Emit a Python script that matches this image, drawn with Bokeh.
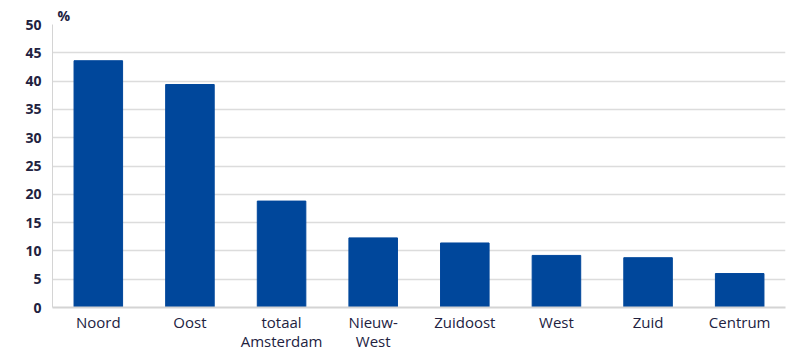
from bokeh.plotting import figure
from bokeh.models import FixedTicker, Range1d, Title
from bokeh.embed import file_html
from bokeh.resources import INLINE

categories = ["Noord", "Oost", "totaal\nAmsterdam", "Nieuw-\nWest", "Zuidoost", "West", "Zuid", "Centrum"]
values = [43.6, 39.4, 18.8, 12.3, 11.4, 9.2, 8.8, 6.0]
y_ticks = [0, 5, 10, 15, 20, 25, 30, 35, 40, 45, 50]

FONT = "Open Sans"
TXT = "#22223f"

p = figure(x_range=categories, y_range=Range1d(0, 50), width=787, height=360,
           output_backend="svg", toolbar_location=None,
           min_border_left=52, min_border_right=2, min_border_top=24, min_border_bottom=53)
p.vbar(x=categories, top=values, width=0.53, color="#00479b")

p.outline_line_color = None
p.xgrid.grid_line_color = None
p.ygrid.grid_line_color = "#dcdcdc"
p.ygrid.grid_line_width = 1.5
p.yaxis.ticker = FixedTicker(ticks=y_ticks)

for ax in (p.xaxis, p.yaxis):
    ax.axis_line_color = "#d4d4d4"
    ax.axis_line_width = 2
    ax.major_tick_line_color = None
    ax.minor_tick_line_color = None
    ax.major_tick_in = 0
    ax.major_tick_out = 0
    ax.major_label_text_font = FONT
    ax.major_label_text_color = TXT
    ax.major_label_text_font_style = "bold"

p.xaxis.major_label_text_font_size = "15px"
p.xaxis.major_label_text_font_style = "normal"
p.xaxis.major_label_text_line_height = 0.95
p.yaxis.major_label_text_font_size = "14px"
p.yaxis.axis_line_width = 1
p.yaxis.major_label_standoff = 11
p.xaxis.major_label_standoff = 4

p.add_layout(Title(text="%", align="left", offset=5, text_font=FONT,
                   text_font_size="14px", text_font_style="bold", text_color=TXT,
                   standoff=0), "above")

open("out.html", "w").write(file_html(p, INLINE))
